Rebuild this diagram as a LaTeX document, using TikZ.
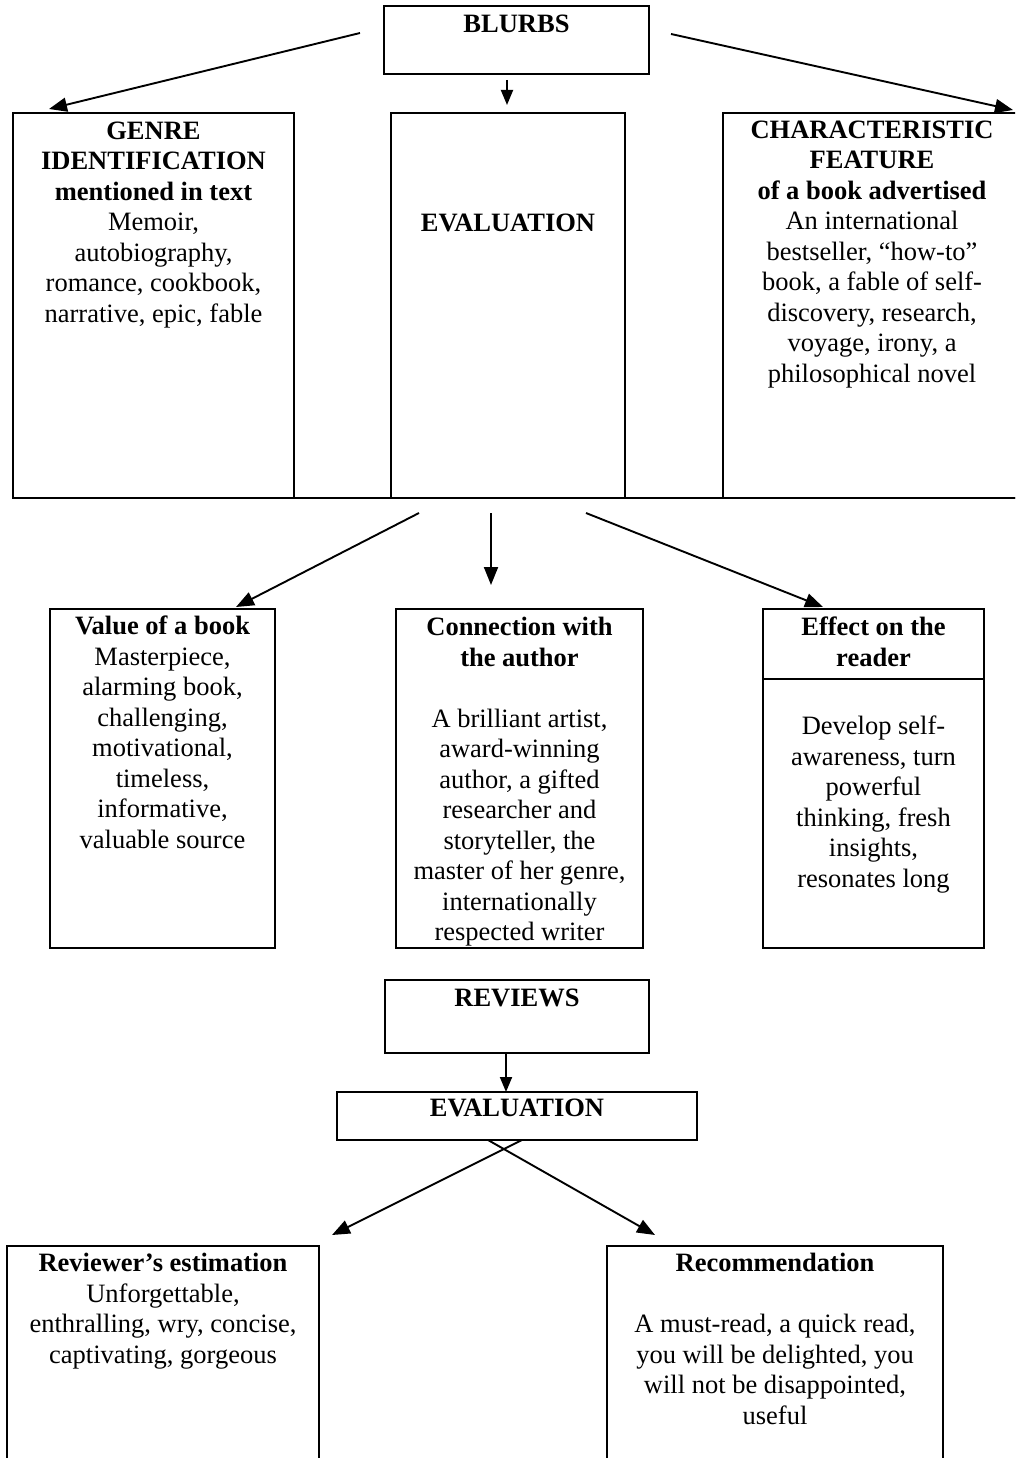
\documentclass[tikz,border=0pt]{standalone}
\usepackage{fontspec}
\setmainfont{Liberation Serif}
\usetikzlibrary{arrows.meta,calc}
\begin{document}
\begin{tikzpicture}[x=1pt,y=-1pt,
  box/.style={draw, line width=2pt, inner sep=0pt, outer sep=0pt, anchor=north west},
  txt/.style={font={\fontsize{26.5}{30.5}\selectfont}, align=center, inner sep=0pt, anchor=north},
  arr/.style={line width=1.9pt, -{Triangle[length=18pt,width=14pt]}}]
\useasboundingbox (0,0) rectangle (1015,1458);
\clip (0,0) rectangle (1015,1458);

% ---------- boxes ----------
\node[box, minimum width=265pt, minimum height=68pt]  (blurbs)   at (384,6) {};
\node[box, minimum width=281pt, minimum height=385pt] (genre)    at (13,113) {};
\node[box, minimum width=234pt, minimum height=385pt] (evalbox)  at (391,113) {};
\node[box, minimum width=298pt, minimum height=385pt] (charbox)  at (723,113) {};
\node[box, minimum width=225pt, minimum height=339pt] (value)    at (50,609) {};
\node[box, minimum width=247pt, minimum height=339pt] (conn)     at (396,609) {};
\node[box, minimum width=221pt, minimum height=339pt] (effect)   at (763,609) {};
\node[box, minimum width=264pt, minimum height=73pt]  (reviews)  at (385,980) {};
\node[box, minimum width=360pt, minimum height=48pt]  (eval2)    at (337,1092) {};
\node[box, minimum width=312pt, minimum height=240pt] (reviewer) at (7,1246) {};
\node[box, minimum width=336pt, minimum height=240pt] (recom)    at (607,1246) {};

\draw[line width=2pt] (genre.south west) -- (charbox.south east);
\draw[line width=2pt] ($(effect.north west)+(0,70)$) -- ($(effect.north east)+(0,70)$);

% ---------- texts ----------
\node[txt] (tblurbs) at ($(blurbs.north)+(0,4.65)$) {\strut\textbf{BLURBS}};
\node[txt] (tgenre) at ($(genre.north)+(0,4.65)$) {\strut\textbf{GENRE}\\\textbf{IDENTIFICATION}\\\textbf{mentioned in text}\\Memoir,\\autobiography,\\romance, cookbook,\\narrative, epic, fable};
\node[txt] (teval) at ($(evalbox.north)+(0,96.65)$) {\strut\textbf{EVALUATION}};
\node[txt] (tchar) at ($(charbox.north)+(0,3.65)$) {\strut\textbf{CHARACTERISTIC}\\\textbf{FEATURE}\\\textbf{of a book advertised}\\An international\\bestseller, “how-to”\\book, a fable of self-\\discovery, research,\\voyage, irony, a\\philosophical novel};
\node[txt] (tvalue) at ($(value.north)+(0,4.15)$) {\strut\textbf{Value of a book}\\Masterpiece,\\alarming book,\\challenging,\\motivational,\\timeless,\\informative,\\valuable source};
\node[txt] (tconn) at ($(conn.north)+(0,5.15)$) {\strut\textbf{Connection with}\\\textbf{the author}\\[30.5pt]A brilliant artist,\\award-winning\\author, a gifted\\researcher and\\storyteller, the\\master of her genre,\\internationally\\respected writer};
\node[txt] (teffh) at ($(effect.north)+(0,5.15)$) {\strut\textbf{Effect on the}\\\textbf{reader}};
\node[txt] (teffb) at ($(effect.north)+(0,104.15)$) {\strut Develop self-\\awareness, turn\\powerful\\thinking, fresh\\insights,\\resonates long};
\node[txt] (treviews) at ($(reviews.north)+(0,4.65)$) {\strut\textbf{REVIEWS}};
\node[txt] (teval2) at ($(eval2.north)+(0,2.65)$) {\strut\textbf{EVALUATION}};
\node[txt] (treviewer) at ($(reviewer.north)+(0,4.15)$) {\strut\textbf{Reviewer’s estimation}\\Unforgettable,\\enthralling, wry, concise,\\captivating, gorgeous};
\node[txt] (trecom) at ($(recom.north)+(0,4.15)$) {\strut\textbf{Recommendation}\\[30.5pt]A must-read, a quick read,\\you will be delighted, you\\will not be disappointed,\\useful};

% ---------- connectors ----------
\coordinate (a1s) at (360,33);  \coordinate (a1e) at (49,109);
\coordinate (a2s) at (507,80);  \coordinate (a2e) at (507,105);
\coordinate (a3s) at (671,34);  \coordinate (a3e) at (1013,110);
\coordinate (b1s) at (419,513); \coordinate (b1e) at (236,607);
\coordinate (b2s) at (491,513); \coordinate (b2e) at (491,585);
\coordinate (b3s) at (586,513); \coordinate (b3e) at (823,607);
\coordinate (d1s) at (522,1140); \coordinate (d1e) at (332,1235);
\coordinate (d2s) at (488,1140); \coordinate (d2e) at (655,1235);

\draw[arr] (a1s) -- (a1e);
\draw[arr, -{Triangle[length=15pt,width=12pt]}] (a2s) -- (a2e);
\draw[arr] (a3s) -- (a3e);
\draw[arr] (b1s) -- (b1e);
\draw[arr] (b2s) -- (b2e);
\draw[arr] (b3s) -- (b3e);
\draw[arr, -{Triangle[length=15pt,width=12pt]}] ([xshift=-11pt]reviews.south) -- ([xshift=-11pt]eval2.north);
\draw[arr] (d1s) -- (d1e);
\draw[arr] (d2s) -- (d2e);
\end{tikzpicture}
\end{document}
